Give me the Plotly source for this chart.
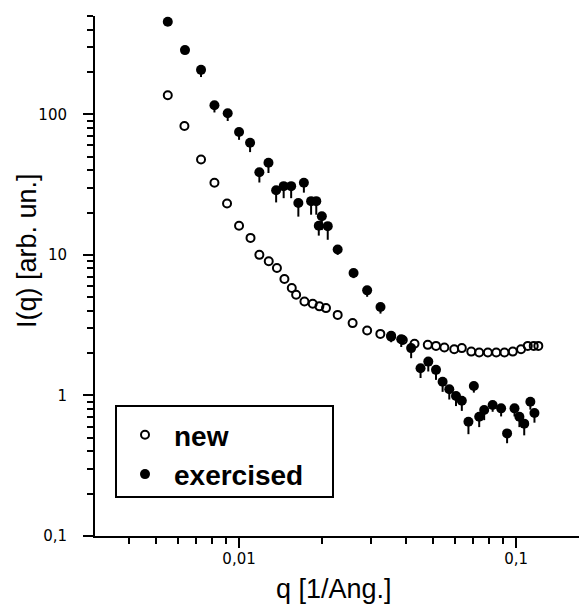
import plotly.graph_objects as go

# ---- data ----
q_new = [0.00553, 0.00635, 0.00729, 0.00815, 0.00905, 0.0100, 0.0110, 0.01184, 0.0128, 0.0137,
         0.01458, 0.0155, 0.01607, 0.01722, 0.01845, 0.0195, 0.0206, 0.0227, 0.0257, 0.0290,
         0.03236, 0.0354, 0.0390, 0.0430, 0.0480, 0.0514, 0.0551, 0.0598, 0.0637, 0.0689,
         0.0736, 0.0791, 0.0848, 0.0908, 0.0973, 0.1042, 0.1102, 0.1158, 0.1203]
I_new = [136.7, 82.6, 47.7, 32.6, 23.2, 16.1, 13.2, 10.0, 9.0, 8.06,
         6.73, 5.81, 5.2, 4.66, 4.49, 4.3, 4.18, 3.74, 3.27, 2.9,
         2.74, 2.62, 2.48, 2.33, 2.29, 2.25, 2.19, 2.13, 2.17, 2.05,
         2.02, 2.02, 2.02, 2.02, 2.05, 2.13, 2.25, 2.25, 2.25]

q_ex = [0.00553, 0.00638, 0.00729, 0.00815, 0.0091, 0.0100, 0.01096, 0.01184, 0.01277, 0.01361,
        0.01449, 0.01542, 0.01637, 0.01714, 0.0182, 0.0190, 0.0194, 0.0199, 0.0209, 0.0227,
        0.0259, 0.0290, 0.0324, 0.0354, 0.0385, 0.0418, 0.0452, 0.0482, 0.0514, 0.0543,
        0.0574, 0.0607, 0.0637, 0.0673, 0.0704, 0.0736, 0.0767, 0.0823, 0.0883, 0.0928,
        0.0987, 0.1028, 0.1070, 0.1126, 0.1165]
I_ex = [455, 286, 207, 116, 101.6, 74.8, 62.8, 38.7, 45.2, 28.8,
        30.8, 30.8, 23.4, 32.6, 24.1, 24.1, 16.1, 18.8, 16.0, 10.9,
        7.43, 5.59, 4.25, 2.66, 2.51, 2.17, 1.56, 1.74, 1.52, 1.25,
        1.105, 0.99, 0.916, 0.65, 1.167, 0.705, 0.787, 0.855, 0.809, 0.537,
        0.809, 0.705, 0.63, 0.902, 0.75]
err_ex = [23, 14, 23, 13, 12, 9, 9, 6, 7, 5.2,
          5.5, 5.5, 4.7, 4.9, 4.8, 4.8, 2.4, 3.8, 3.2, 0.9,
          0.6, 0.56, 0.43, 0.27, 0.3, 0.33, 0.23, 0.26, 0.23, 0.19,
          0.17, 0.15, 0.14, 0.12, 0.12, 0.11, 0.12, 0.09, 0.1, 0.08,
          0.1, 0.11, 0.11, 0.11, 0.11]

x_tickvals = [0.01, 0.1]
x_ticktext = ["0,01", "0,1"]
y_tickvals = [0.1, 1, 10, 100]
y_ticktext = ["0,1", "1", "10", "100"]
x_minor = [0.003, 0.004, 0.005, 0.006, 0.007, 0.008, 0.009,
           0.02, 0.03, 0.04, 0.05, 0.06, 0.07, 0.08, 0.09]
y_minor = [0.2, 0.3, 0.4, 0.5, 0.6, 0.7, 0.8, 0.9,
           2, 3, 4, 5, 6, 7, 8, 9,
           20, 30, 40, 50, 60, 70, 80, 90,
           200, 300, 400, 500]

FONT = "Liberation Sans, Arial, sans-serif"

# plot area in reference pixels: x 95..587, y 16..536 (page has an 8px body margin)
PX0, PX1, PY0, PY1 = 95, 587, 16, 536
PW, PH = PX1 - PX0, PY1 - PY0


def px(xp):
    return (xp - PX0) / PW


def py(yp):
    return (PY1 - yp) / PH


fig = go.Figure()
fig.add_trace(go.Scatter(
    x=q_new, y=I_new, mode="markers", name="new",
    marker=dict(symbol="circle-open", size=8, color="black", line=dict(width=2, color="black")),
))
fig.add_trace(go.Scatter(
    x=q_ex, y=I_ex, mode="markers", name="exercised",
    marker=dict(symbol="circle", size=10, color="black"),
    error_y=dict(type="data", symmetric=False, array=[0] * len(err_ex), arrayminus=err_ex,
                 color="black", thickness=2, width=0),
))

axis_common = dict(
    type="log", showgrid=False, zeroline=False, showline=True, linecolor="black", linewidth=2,
    ticks="outside", ticklen=10, tickwidth=2, tickcolor="black",
    tickfont=dict(family="DejaVu Sans, sans-serif", size=15, color="black"),
    mirror=False,
)

fig.update_xaxes(
    **axis_common, range=[-2.52, -0.744], tickmode="array",
    tickvals=x_tickvals, ticktext=x_ticktext, ticklabelstandoff=-2,
    minor=dict(tickmode="array", tickvals=x_minor, ticks="outside", ticklen=6, tickwidth=2,
               tickcolor="black", showgrid=False),
)
fig.update_yaxes(
    **axis_common, range=[-1, 2.699], tickmode="array",
    tickvals=y_tickvals, ticktext=y_ticktext, ticklabelstandoff=13,
    minor=dict(tickmode="array", tickvals=y_minor, ticks="outside", ticklen=6, tickwidth=2,
               tickcolor="black", showgrid=False),
)

fig.add_annotation(
    text="I(q) [arb. un.]", textangle=-90, xref="paper", yref="paper",
    x=0, y=py(251), xshift=-68, xanchor="center", yanchor="middle",
    showarrow=False, font=dict(family=FONT, size=27, color="black"),
)
fig.add_annotation(
    text="q [1/Ang.]", xref="paper", yref="paper",
    x=px(334), y=py(589), xanchor="center", yanchor="middle",
    showarrow=False, font=dict(family=FONT, size=27, color="black"),
)

# legend frame
fig.add_shape(
    type="rect", xref="paper", yref="paper",
    x0=px(116), x1=px(333), y0=py(497), y1=py(406),
    line=dict(color="black", width=2), fillcolor="white", layer="below",
)

fig.update_layout(
    width=587 - 8, height=606 - 8,
    margin=dict(l=PX0 - 8, r=0, t=PY0 - 8, b=606 - PY1, pad=0),
    paper_bgcolor="white", plot_bgcolor="rgba(0,0,0,0)",
    showlegend=True,
    legend=dict(
        x=px(116), y=py(499), xanchor="left", yanchor="bottom",
        borderwidth=0, bgcolor="rgba(0,0,0,0)",
        font=dict(family=FONT, size=28, color="black", weight="bold"),
        itemwidth=48,
    ),
)

fig.write_html("out.html")
